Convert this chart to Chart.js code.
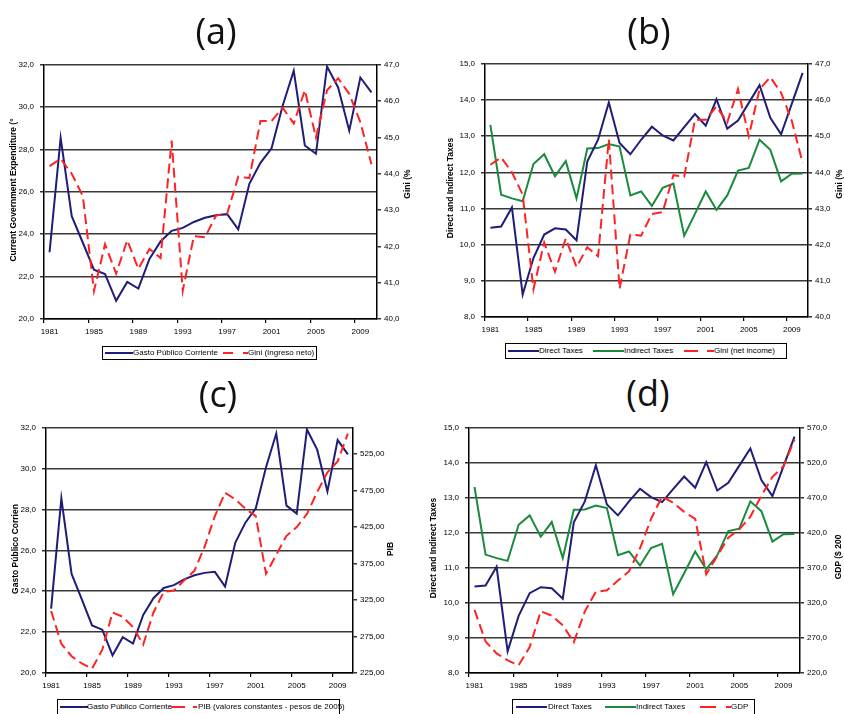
<!DOCTYPE html>
<html><head><meta charset="utf-8">
<script src="https://cdn.jsdelivr.net/npm/chart.js@4.4.0/dist/chart.umd.min.js"></script>
<style>
html,body{margin:0;padding:0;background:#fff;}
body{width:844px;height:714px;position:relative;overflow:hidden;font-family:"Liberation Sans",Arial,sans-serif;color:#000;}
canvas{position:absolute;}
.ptitle{position:absolute;font-family:"Open Sans",sans-serif;font-size:36px;transform:translate(-50%,-50%);white-space:nowrap;color:#111;line-height:1;}
.atitle{position:absolute;font-weight:bold;font-size:8.5px;white-space:nowrap;transform:translate(-50%,-50%) rotate(-90deg);line-height:1;}
.legend{position:absolute;border:1px solid #000;background:#fff;font-size:8px;white-space:nowrap;box-sizing:border-box;}
.legend span{position:absolute;top:50%;transform:translateY(-50%);line-height:1;}
.legend svg{position:absolute;top:50%;transform:translateY(-50%);}
</style>
</head><body>
<canvas id="ca" width="420" height="290" style="left:0;top:54px"></canvas>
<canvas id="cb" width="404" height="290" style="left:440px;top:53px"></canvas>
<canvas id="cc" width="420" height="297" style="left:0;top:417px"></canvas>
<canvas id="cd" width="404" height="297" style="left:440px;top:417px"></canvas>

<div class="ptitle" style="left:216px;top:31px">(a)</div>
<div class="ptitle" style="left:649px;top:31px">(b)</div>
<div class="ptitle" style="left:218px;top:394px">(c)</div>
<div class="ptitle" style="left:648px;top:393px">(d)</div>

<div class="atitle" style="left:13px;top:190px">Current Government Expenditure (°</div>
<div class="atitle" style="left:407px;top:184px">Gini (%</div>
<div class="atitle" style="left:450px;top:188px">Direct and Indirect Taxes</div>
<div class="atitle" style="left:839px;top:184px">Gini (%</div>
<div class="atitle" style="left:15px;top:549px">Gasto Público Corrien</div>
<div class="atitle" style="left:390px;top:549px">PIB</div>
<div class="atitle" style="left:433px;top:548px">Direct and Indirect Taxes</div>
<div class="atitle" style="left:838px;top:557px">GDP ($ 200</div>

<div class="legend" style="left:102px;top:346px;width:215px;height:14px">
  <svg style="left:2px" width="28" height="3"><line x1="0" y1="1.5" x2="28" y2="1.5" stroke="#1f1d78" stroke-width="2"/></svg>
  <span style="left:30px">Gasto Público Corriente</span>
  <svg style="left:120px" width="25" height="3"><line x1="0" y1="1.5" x2="25" y2="1.5" stroke="#ff2222" stroke-width="2" stroke-dasharray="10,10"/></svg>
  <span style="left:145px">Gini (Ingreso neto)</span>
</div>
<div class="legend" style="left:505px;top:343px;width:282px;height:16px">
  <svg style="left:2px" width="31" height="3"><line x1="0" y1="1.5" x2="31" y2="1.5" stroke="#1f1d78" stroke-width="2"/></svg>
  <span style="left:33px">Direct Taxes</span>
  <svg style="left:87px" width="31" height="3"><line x1="0" y1="1.5" x2="31" y2="1.5" stroke="#1a8a3c" stroke-width="2"/></svg>
  <span style="left:118px">Indirect Taxes</span>
  <svg style="left:178px" width="30" height="3"><line x1="0" y1="1.5" x2="30" y2="1.5" stroke="#ff2222" stroke-width="2" stroke-dasharray="14,9"/></svg>
  <span style="left:208px">Gini (net income)</span>
</div>
<div class="legend" style="left:57px;top:699px;width:283px;height:16px">
  <svg style="left:2px" width="28" height="3"><line x1="0" y1="1.5" x2="28" y2="1.5" stroke="#1f1d78" stroke-width="2"/></svg>
  <span style="left:29px">Gasto Público Corriente</span>
  <svg style="left:113px" width="26" height="3"><line x1="0" y1="1.5" x2="26" y2="1.5" stroke="#ff2222" stroke-width="2" stroke-dasharray="14,8"/></svg>
  <span style="left:140px">PIB (valores constantes - pesos de 2005)</span>
</div>
<div class="legend" style="left:512px;top:699px;width:243px;height:16px">
  <svg style="left:3px" width="31" height="3"><line x1="0" y1="1.5" x2="31" y2="1.5" stroke="#1f1d78" stroke-width="2"/></svg>
  <span style="left:35px">Direct Taxes</span>
  <svg style="left:92px" width="31" height="3"><line x1="0" y1="1.5" x2="31" y2="1.5" stroke="#1a8a3c" stroke-width="2"/></svg>
  <span style="left:123px">Indirect Taxes</span>
  <svg style="left:187px" width="31" height="3"><line x1="0" y1="1.5" x2="31" y2="1.5" stroke="#ff2222" stroke-width="2" stroke-dasharray="16,10"/></svg>
  <span style="left:218px">GDP</span>
</div>

<script>
// ---- data ----
const years = ['1981','1982','1983','1984','1985','1986','1987','1988','1989','1990',
  '1991','1992','1993','1994','1995','1996','1997','1998','1999','2000',
  '2001','2002','2003','2004','2005','2006','2007','2008','2009','2010'];
const gastoCorriente = [23.15,28.55,24.85,23.6,22.33,22.12,20.86,21.75,21.44,22.84,
  23.66,24.16,24.3,24.58,24.78,24.9,24.95,24.23,26.38,27.37,
  28.06,30.07,31.72,28.19,27.8,31.92,30.93,28.89,31.4,30.7];
const gini = [44.21,44.41,44.0,43.38,40.77,42.06,41.25,42.17,41.38,41.93,
  41.68,44.91,40.78,42.28,42.25,42.85,42.9,43.92,43.88,45.45,
  45.45,45.82,45.38,46.3,45.0,46.3,46.63,46.2,45.42,44.26];
const directTaxes = [10.47,10.5,11.03,8.62,9.63,10.28,10.45,10.42,10.12,12.3,
  12.9,13.93,12.81,12.5,12.9,13.26,13.02,12.88,13.25,13.61,
  13.29,14.02,13.21,13.43,13.92,14.41,13.51,13.05,13.9,14.75];
const indirectTaxes = [13.31,11.38,11.28,11.2,12.23,12.5,11.89,12.31,11.28,12.66,
  12.67,12.78,12.71,11.36,11.47,11.07,11.57,11.69,10.25,10.85,
  11.47,10.96,11.36,12.05,12.12,12.9,12.62,11.75,11.96,11.97];
const gdp = [310,265,248,238,231,257,308,302,288,264,
  308,336,338,352,365,398,440,472,463,450,
  440,361,387,413,425,443,473,500,515,553];

const ticksGasto = [20,22,24,26,28,30,32];
const ticksGini = [40,41,42,43,44,45,46,47];
const ticksTaxes = [8,9,10,11,12,13,14,15];
const ticksPIB = [225,275,325,375,425,475,525];
const ticksGDP = [220,270,320,370,420,470,520,570];

// ---- styles ----
const BLUE = '#1f1d78', GREEN = '#1a8a3c', RED = '#ff2222';
const FONT = {family:'Liberation Sans', size:8};

function fmt(v, dec){ return Number(v).toFixed(dec).replace('.', ','); }

function yScale(pos, ticks, dec, onArea, width, max){
  return {
    type:'linear', position:pos, min:ticks[0], max:(max!==undefined?max:ticks[ticks.length-1]),
    afterBuildTicks: s => { s.ticks = ticks.map(v => ({value:v})); },
    afterFit: s => { s.width = width; },
    border:{display:true, color:'#000', width:1.5},
    grid:{display:true, drawOnChartArea:onArea, color:'#383838', lineWidth:1.6, tickLength:4, tickColor:'#000', tickWidth:1.2, drawTicks:true},
    ticks:{color:'#000', font:FONT, padding:(pos==='left'?6:3), callback: v => fmt(v, dec)}
  };
}
function xScale(h){
  return {
    type:'category', offset:true,
    afterFit: s => { s.height = h; },
    border:{display:true, color:'#000', width:1.5},
    grid:{offset:true, drawOnChartArea:false, tickLength:4, lineWidth:1.2,
      tickColor: c => (c.index !== undefined && c.index % 4 === 0) ? '#000' : 'rgba(0,0,0,0)'},
    ticks:{autoSkip:false, maxRotation:0, minRotation:0, padding:4, color:'#000', font:FONT,
      callback: function(v, i){ return i % 4 === 0 ? this.getLabelForValue(v) : ''; }}
  };
}
function ds(data, color, axis, dashed){
  return {data, borderColor:color, backgroundColor:color, borderWidth:2, pointRadius:0,
    tension:0, fill:false, yAxisID:axis, borderDash: dashed ? [10,5] : [], order: dashed ? 0 : 1};
}
function make(id, datasets, scales){
  new Chart(document.getElementById(id), {
    type:'line',
    data:{labels:years, datasets},
    options:{responsive:false, animation:false, devicePixelRatio:1,
      layout:{padding:{top:10, left:0, right:0, bottom:0}},
      plugins:{legend:{display:false}, tooltip:{enabled:false}},
      scales}
  });
}

// (a) plot: L44 R377 T64 B319
make('ca', [ds(gastoCorriente, BLUE, 'yL'), ds(gini, RED, 'yR', true)],
  {x:xScale(25), yL:yScale('left', ticksGasto, 1, true, 44), yR:yScale('right', ticksGini, 1, false, 43)});
// (b) plot: L485 R808 T63 B317
make('cb', [ds(directTaxes, BLUE, 'yL'), ds(indirectTaxes, GREEN, 'yL'), ds(gini, RED, 'yR', true)],
  {x:xScale(26), yL:yScale('left', ticksTaxes, 1, true, 45), yR:yScale('right', ticksGini, 1, false, 36)});
// (c) plot: L46 R353 T427 B673
make('cc', [ds(gastoCorriente, BLUE, 'yL'), ds(gdp, RED, 'yR', true)],
  {x:xScale(41), yL:yScale('left', ticksGasto, 1, true, 46), yR:yScale('right', ticksPIB, 2, false, 67, 561)});
// (d) plot: L469 R800 T427 B673
make('cd', [ds(directTaxes, BLUE, 'yL'), ds(indirectTaxes, GREEN, 'yL'), ds(gdp, RED, 'yR', true)],
  {x:xScale(41), yL:yScale('left', ticksTaxes, 1, true, 29), yR:yScale('right', ticksGDP, 1, false, 44)});
</script>
</body></html>
